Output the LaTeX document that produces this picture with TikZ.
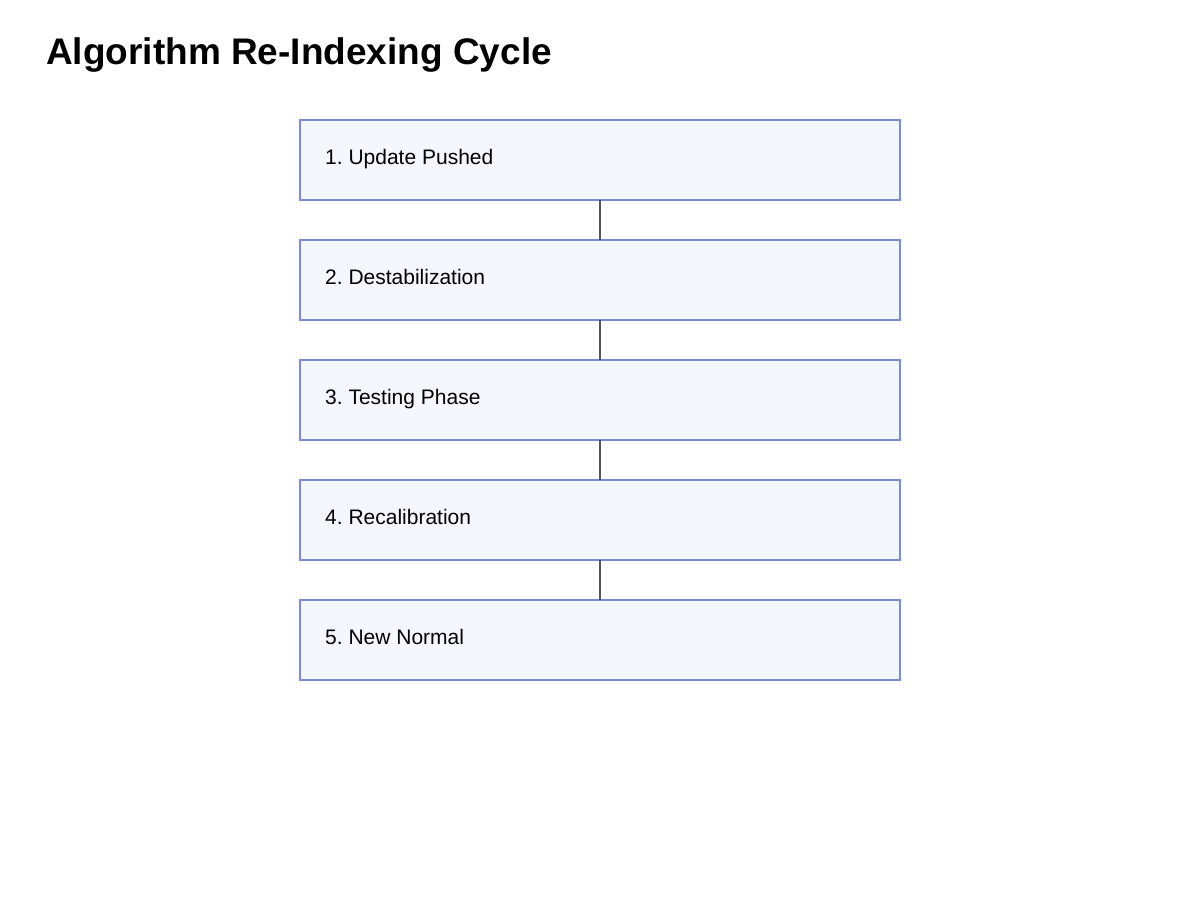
\documentclass[tikz,border=0pt]{standalone}
\usepackage{fontspec}
\setmainfont{Liberation Sans}
\frenchspacing
\definecolor{boxborder}{HTML}{7B8BD0}
\definecolor{boxfill}{HTML}{F4F7FE}
\definecolor{linkgray}{HTML}{555555}
\tikzset{
  stepbox/.style={draw=boxborder, fill=boxfill, line width=1.5pt, minimum width=600pt, minimum height=80pt, inner sep=0pt, outer sep=0pt},
  steptext/.style={anchor=base west, inner sep=0pt, font=\fontsize{21}{25}\selectfont},
  link/.style={draw=linkgray, line width=2.5pt},
  titletext/.style={anchor=base west, inner sep=0pt, font=\fontsize{37}{42}\selectfont\bfseries}
}
\begin{document}
\begin{tikzpicture}[x=1pt, y=-1pt]
\useasboundingbox (0,0) rectangle (1200,900);
\node[titletext] (title) at (46,64) {Algorithm Re-Indexing Cycle};
\node[stepbox] (s1) at (600,160) {};
\node[stepbox] (s2) at (600,280) {};
\node[stepbox] (s3) at (600,400) {};
\node[stepbox] (s4) at (600,520) {};
\node[stepbox] (s5) at (600,640) {};
\node[steptext] (t1) at (325,164) {1. Update Pushed};
\node[steptext] (t2) at (325,284) {2. Destabilization};
\node[steptext] (t3) at (325,404) {3. Testing Phase};
\node[steptext] (t4) at (325,524) {4. Recalibration};
\node[steptext] (t5) at (325,644) {5. New Normal};
\draw[link] (s1.south) -- (s2.north);
\draw[link] (s2.south) -- (s3.north);
\draw[link] (s3.south) -- (s4.north);
\draw[link] (s4.south) -- (s5.north);
\end{tikzpicture}
\end{document}
